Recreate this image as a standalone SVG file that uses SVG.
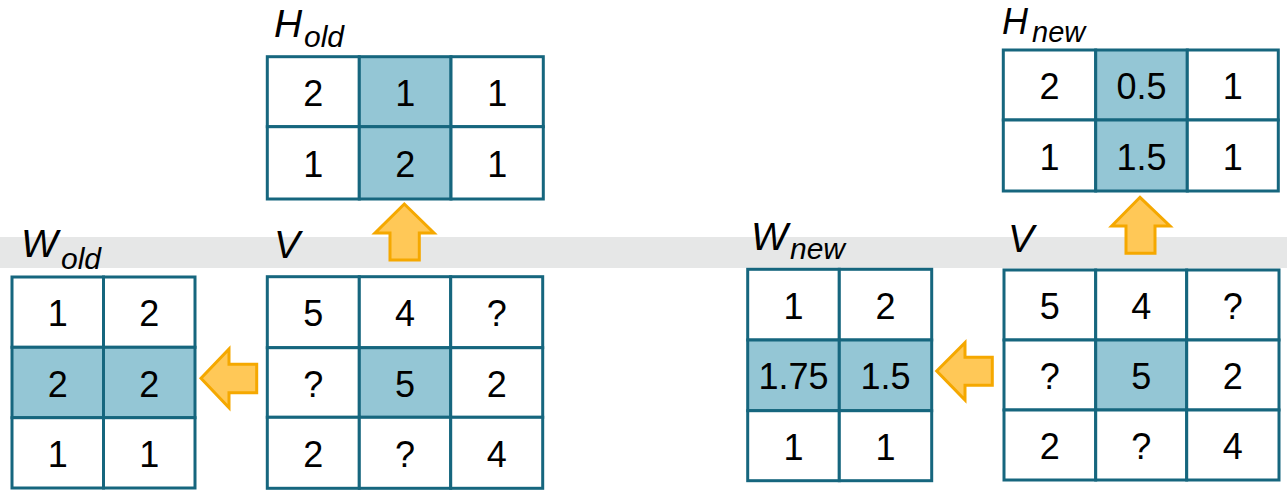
<svg xmlns="http://www.w3.org/2000/svg" width="1287" height="490" viewBox="0 0 1287 490">
<style>
.c{fill:#ffffff;stroke:#16667E;stroke-width:3}
.h{fill:#94C6D5;stroke:#16667E;stroke-width:3}
.t{font-family:"Liberation Sans",Arial,sans-serif;font-size:36px;fill:#000;text-anchor:middle}
.lb{font-family:"Liberation Sans",Arial,sans-serif;font-style:italic;font-size:39px;fill:#000}
.sb{font-size:30px}
.ar{fill:#FFC857;stroke:#F5A800;stroke-width:3;stroke-linejoin:miter}
</style>
<rect x="0" y="237" width="1287" height="31" fill="#E6E7E7"/>

<g id="W_old">
<rect class="c" x="12" y="277" width="91.5" height="70.3"/>
<rect class="c" x="103.5" y="277" width="91.5" height="70.3"/>
<rect class="h" x="12" y="347.3" width="91.5" height="70.4"/>
<rect class="h" x="103.5" y="347.3" width="91.5" height="70.4"/>
<rect class="c" x="12" y="417.7" width="91.5" height="70.3"/>
<rect class="c" x="103.5" y="417.7" width="91.5" height="70.3"/>
<text class="t" x="57.8" y="326">1</text><text class="t" x="149.3" y="326">2</text>
<text class="t" x="57.8" y="396.5">2</text><text class="t" x="149.3" y="396.5">2</text>
<text class="t" x="57.8" y="467">1</text><text class="t" x="149.3" y="467">1</text>
<text class="lb" x="21" y="257">W<tspan class="sb" x="61" y="269">old</tspan></text>
</g>

<g id="H_old">
<rect class="c" x="267.3" y="56.7" width="92" height="70"/>
<rect class="h" x="359.3" y="56.7" width="91.7" height="70"/>
<rect class="c" x="451" y="56.7" width="92.3" height="70"/>
<rect class="c" x="267.3" y="126.7" width="92" height="72.3"/>
<rect class="h" x="359.3" y="126.7" width="91.7" height="72.3"/>
<rect class="c" x="451" y="126.7" width="92.3" height="72.3"/>
<text class="t" x="313.3" y="105.7">2</text><text class="t" x="405.2" y="105.7">1</text><text class="t" x="497.2" y="105.7">1</text>
<text class="t" x="313.3" y="176.9">1</text><text class="t" x="405.2" y="176.9">2</text><text class="t" x="497.2" y="176.9">1</text>
<text class="lb" x="274" y="37">H<tspan class="sb" x="304" y="47">old</tspan></text>
</g>

<g id="V_left">
<rect class="c" x="267.3" y="276.7" width="92" height="71"/>
<rect class="c" x="359.3" y="276.7" width="91.4" height="71"/>
<rect class="c" x="450.7" y="276.7" width="92" height="71"/>
<rect class="c" x="267.3" y="347.7" width="92" height="69.6"/>
<rect class="h" x="359.3" y="347.7" width="91.4" height="69.6"/>
<rect class="c" x="450.7" y="347.7" width="92" height="69.6"/>
<rect class="c" x="267.3" y="417.3" width="92" height="71"/>
<rect class="c" x="359.3" y="417.3" width="91.4" height="71"/>
<rect class="c" x="450.7" y="417.3" width="92" height="71"/>
<text class="t" x="313.3" y="326.2">5</text><text class="t" x="405" y="326.2">4</text><text class="t" x="496.7" y="326.2">?</text>
<text class="t" x="313.3" y="396.5">?</text><text class="t" x="405" y="396.5">5</text><text class="t" x="496.7" y="396.5">2</text>
<text class="t" x="313.3" y="466.8">2</text><text class="t" x="405" y="466.8">?</text><text class="t" x="496.7" y="466.8">4</text>
<text class="lb" x="274" y="258">V</text>
</g>

<g id="W_new">
<rect class="c" x="747.7" y="269.3" width="91.6" height="70.7"/>
<rect class="c" x="839.3" y="269.3" width="92.4" height="70.7"/>
<rect class="h" x="747.7" y="340" width="91.6" height="70.7"/>
<rect class="h" x="839.3" y="340" width="92.4" height="70.7"/>
<rect class="c" x="747.7" y="410.7" width="91.6" height="70"/>
<rect class="c" x="839.3" y="410.7" width="92.4" height="70"/>
<text class="t" x="793.5" y="318.7">1</text><text class="t" x="885.5" y="318.7">2</text>
<text class="t" x="793.5" y="389.3">1.75</text><text class="t" x="885.5" y="389.3">1.5</text>
<text class="t" x="793.5" y="459.7">1</text><text class="t" x="885.5" y="459.7">1</text>
<text class="lb" x="751" y="250">W<tspan class="sb" x="790" y="259">new</tspan></text>
</g>

<g id="H_new">
<rect class="c" x="1003.3" y="50" width="92.4" height="70"/>
<rect class="h" x="1095.7" y="50" width="91.6" height="70"/>
<rect class="c" x="1187.3" y="50" width="91" height="70"/>
<rect class="c" x="1003.3" y="120" width="92.4" height="71"/>
<rect class="h" x="1095.7" y="120" width="91.6" height="71"/>
<rect class="c" x="1187.3" y="120" width="91" height="71"/>
<text class="t" x="1049.5" y="99">2</text><text class="t" x="1141.5" y="99">0.5</text><text class="t" x="1232.8" y="99">1</text>
<text class="t" x="1049.5" y="169.5">1</text><text class="t" x="1141.5" y="169.5">1.5</text><text class="t" x="1232.8" y="169.5">1</text>
<text class="lb" x="1002" y="34" style="font-size:36px">H<tspan class="sb" x="1032" y="42" style="font-size:29px">new</tspan></text>
</g>

<g id="V_right">
<rect class="c" x="1004" y="270" width="91.7" height="70"/>
<rect class="c" x="1095.7" y="270" width="91" height="70"/>
<rect class="c" x="1186.7" y="270" width="92.3" height="70"/>
<rect class="c" x="1004" y="340" width="91.7" height="70"/>
<rect class="h" x="1095.7" y="340" width="91" height="70"/>
<rect class="c" x="1186.7" y="340" width="92.3" height="70"/>
<rect class="c" x="1004" y="410" width="91.7" height="70"/>
<rect class="c" x="1095.7" y="410" width="91" height="70"/>
<rect class="c" x="1186.7" y="410" width="92.3" height="70"/>
<text class="t" x="1049.8" y="319">5</text><text class="t" x="1141.2" y="319">4</text><text class="t" x="1232.8" y="319">?</text>
<text class="t" x="1049.8" y="389">?</text><text class="t" x="1141.2" y="389">5</text><text class="t" x="1232.8" y="389">2</text>
<text class="t" x="1049.8" y="459">2</text><text class="t" x="1141.2" y="459">?</text><text class="t" x="1232.8" y="459">4</text>
<text class="lb" x="1008" y="252">V</text>
</g>

<g id="connectors">
<polygon class="ar" points="201,378.3 229,349 229,364.3 256.7,364.3 256.7,392.7 229,392.7 229,407.7"/>
<polygon class="ar" points="404.3,204 434,233 419.3,233 419.3,260 390,260 390,233 375,233"/>
<polygon class="ar" points="936.7,371 965,342.7 965,357.3 992.3,357.3 992.3,385.3 965,385.3 965,400"/>
<polygon class="ar" points="1140,197.3 1170,226 1155,226 1155,253.3 1126,253.3 1126,226 1111.7,226"/>
</g>
</svg>
